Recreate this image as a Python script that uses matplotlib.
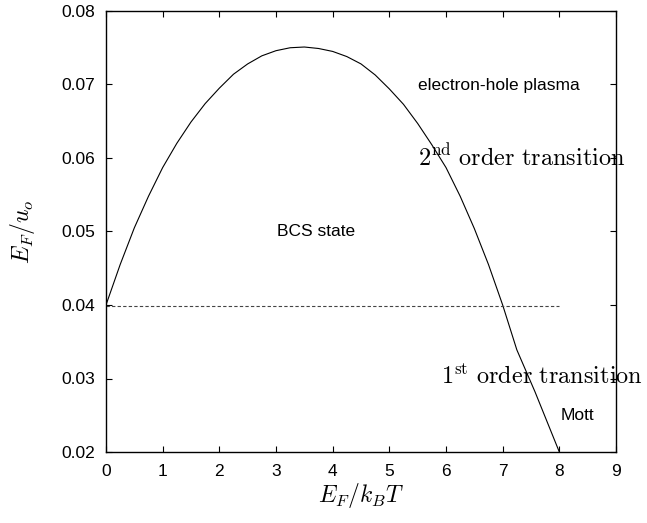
import numpy as np
import matplotlib
matplotlib.use('Agg')
import matplotlib.pyplot as plt

plt.rcParams['font.family'] = ['Liberation Sans', 'DejaVu Sans']
plt.rcParams['mathtext.fontset'] = 'cm'

# phase boundary
x_curve = [0.0, 0.25, 0.5, 0.75, 1.0, 1.25, 1.5, 1.75, 2.0, 2.25, 2.5, 2.75,
           3.0, 3.25, 3.5, 3.75, 4.0, 4.25, 4.5, 4.75, 5.0, 5.25, 5.5, 5.75,
           6.0, 6.25, 6.5, 6.75, 7.0, 7.25, 7.57, 8.0]
y_curve = [0.0400, 0.0455, 0.0505, 0.0548, 0.0587, 0.0620, 0.0649, 0.0674,
           0.0695, 0.0714, 0.0728, 0.0739, 0.0746, 0.0750, 0.0751, 0.0749,
           0.0745, 0.0738, 0.0728, 0.0713, 0.0694, 0.0673, 0.0647, 0.0618,
           0.0587, 0.0548, 0.0504, 0.0455, 0.0400, 0.0339, 0.0282, 0.0200]

x_dash = [0.0, 8.0]
y_dash = [0.0398, 0.0398]

xticks = list(range(0, 10))
yticks = [0.02, 0.03, 0.04, 0.05, 0.06, 0.07, 0.08]

fig = plt.figure(figsize=(6.47, 5.23), dpi=100)
ax = fig.add_axes([106/647, 1 - 452/523, (616 - 106)/647, (452 - 11)/523])

ax.plot(x_curve, y_curve, color='black', linewidth=0.8)
ax.plot(x_dash, y_dash, color='#444444', linewidth=0.8, dashes=(3, 2))

ax.set_xlim(0, 9)
ax.set_ylim(0.02, 0.08)
ax.set_xticks(xticks)
ax.set_yticks(yticks)
ax.set_yticklabels([f'{v:.2f}' for v in yticks])
ax.tick_params(direction='in', top=True, right=True, length=4.5, width=0.8,
               labelsize=12.5)
ax.tick_params(axis='x', pad=9)
ax.tick_params(axis='y', pad=8)
for s in ax.spines.values():
    s.set_linewidth(1.0)

ax.set_xlabel(r'$E_F/k_BT$', fontsize=17, labelpad=1)
ax.set_ylabel(r'$E_F/u_o$', fontsize=17, labelpad=17)

ax.text(5.5, 0.0699, 'electron-hole plasma', fontsize=12.5, va='center')
ax.text(5.5, 0.0600, r'$2^{\mathrm{nd}}\ \mathrm{order\ transition}$',
        fontsize=17.5, va='center', clip_on=False)
ax.text(3.01, 0.0500, 'BCS state', fontsize=12.5, va='center')
ax.text(5.92, 0.0302, r'$1^{\mathrm{st}}\ \mathrm{order\ transition}$',
        fontsize=17.5, va='center', clip_on=False)
ax.text(8.02, 0.0250, 'Mott', fontsize=12.5, va='center')

fig.savefig('out.png', dpi=100)
